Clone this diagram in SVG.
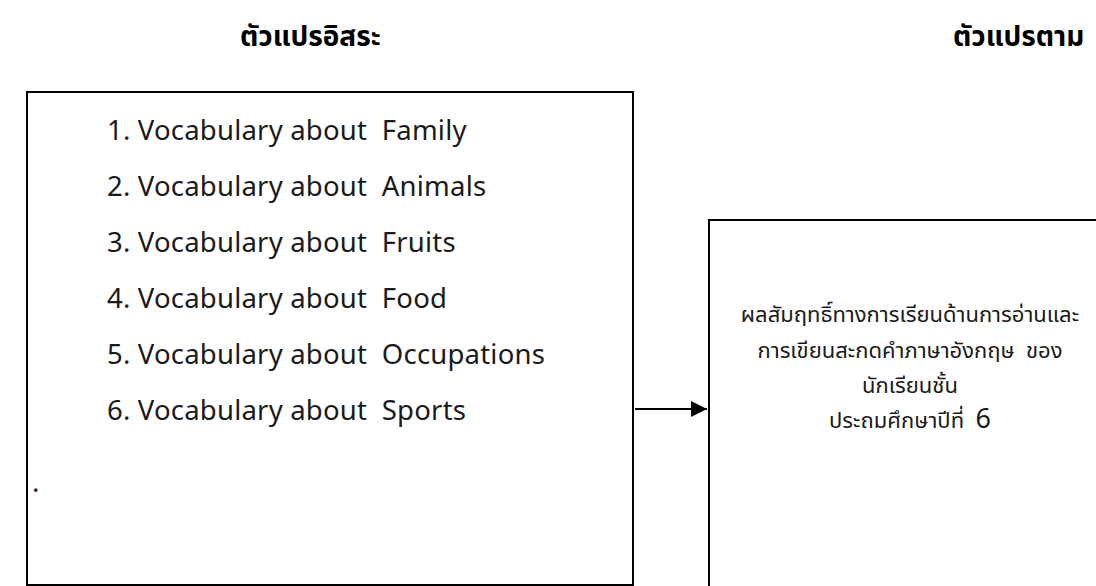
<svg xmlns="http://www.w3.org/2000/svg" width="1096" height="586" viewBox="0 0 1096 586" xml:space="preserve">
<style>
text{white-space:pre}
.box{fill:#fff;stroke:#000;stroke-width:2}
.hd{font-family:"Noto Sans","Noto Sans Thai",sans-serif;font-size:28px;font-weight:bold;fill:#000}
.it{font-family:"Noto Sans",sans-serif;font-size:27.5px;fill:#1a1a1a;letter-spacing:0.2px}
.th{font-family:"Noto Sans","Noto Sans Thai",sans-serif;font-size:22px;fill:#1a1a1a;text-anchor:middle}
.conn{stroke:#000;stroke-width:2;fill:none}
</style>
<defs>
<marker id="arr" markerWidth="16" markerHeight="16" refX="16" refY="8" orient="auto" markerUnits="userSpaceOnUse">
<path d="M0,0 L16,8 L0,16 Z" fill="#000"/>
</marker>
</defs>
<rect width="1096" height="586" fill="#fff"/>
<g id="header-independent"><text class="hd" x="240" y="46">ตัวแปรอิสระ</text></g>
<g id="header-dependent"><text class="hd" x="953" y="46">ตัวแปรตาม</text></g>
<g id="independent">
<rect class="box" x="27" y="92" width="606" height="493"/>
<text class="it" x="107" y="140">1. Vocabulary about  Family</text>
<text class="it" x="107" y="196">2. Vocabulary about  Animals</text>
<text class="it" x="107" y="252">3. Vocabulary about  Fruits</text>
<text class="it" x="107" y="308">4. Vocabulary about  Food</text>
<text class="it" x="107" y="364">5. Vocabulary about  Occupations</text>
<text class="it" x="107" y="420">6. Vocabulary about  Sports</text>
<text class="it" x="32" y="492">.</text>
</g>
<g id="dependent">
<rect class="box" x="709" y="220" width="420" height="400"/>
<text class="th" x="910" y="322">ผลสัมฤทธิ์ทางการเรียนด้านการอ่านและ</text>
<text class="th" x="910" y="358">การเขียนสะกดคำภาษาอังกฤษ  ของ</text>
<text class="th" x="910" y="393">นักเรียนชั้น</text>
<text class="th" x="910" y="428">ประถมศึกษาปีที่  <tspan font-size="27">6</tspan></text>
</g>
<g id="connectors">
<line class="conn" x1="635" y1="409" x2="707" y2="409" marker-end="url(#arr)"/>
</g>
</svg>
